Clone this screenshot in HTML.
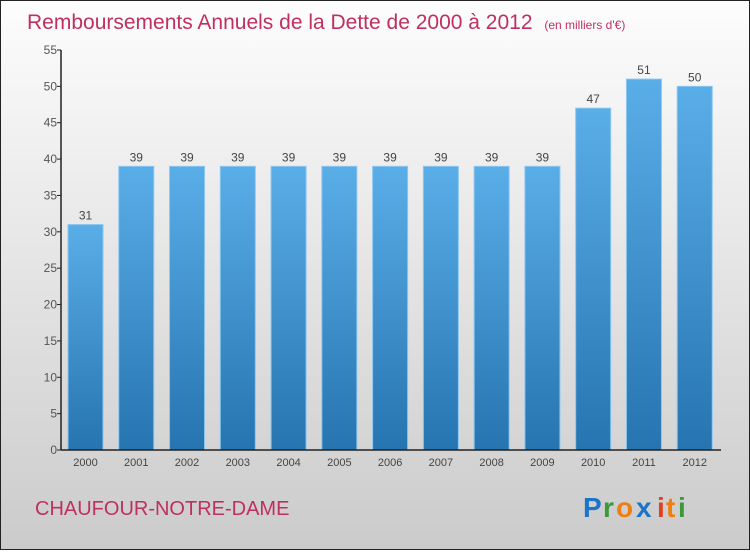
<!DOCTYPE html>
<html><head><meta charset="utf-8"><style>
html,body{margin:0;padding:0}
body{width:750px;height:550px;overflow:hidden;font-family:"Liberation Sans",sans-serif}
</style></head><body>
<svg width="750" height="550" xmlns="http://www.w3.org/2000/svg">
<defs>
<linearGradient id="bg" x1="0" y1="0" x2="0" y2="1"><stop offset="0" stop-color="#fdfdfd"/><stop offset="1" stop-color="#cbcbcb"/></linearGradient>
<linearGradient id="bar" x1="0" y1="0" x2="0" y2="1"><stop offset="0" stop-color="#5aaee8"/><stop offset="1" stop-color="#2674b0"/></linearGradient>
</defs>
<rect x="0.5" y="0.5" width="749" height="549" fill="url(#bg)" stroke="#222"/>
<text x="27" y="29" font-size="21" fill="#c0305e">Remboursements Annuels de la Dette de 2000 à 2012 <tspan font-size="12" dx="6">(en milliers d'€)</tspan></text>
<g id="plot"></g>
<text x="35" y="515" font-size="20" fill="#c0305e">CHAUFOUR-NOTRE-DAME</text>
<g font-size="28" font-weight="bold">
<text x="583" y="517" fill="#1a75c8">P</text><text x="603" y="517" fill="#3a9a3a">r</text><text x="616" y="517" fill="#f07e10">o</text><text x="636" y="517" fill="#1a75c8">x</text><text x="657" y="517" fill="#e04020">i</text><text x="666" y="517" fill="#f07e10">t</text><text x="678" y="517" fill="#3a9a3a">i</text>
</g>
</svg>
<script>
const categories=["2000","2001","2002","2003","2004","2005","2006","2007","2008","2009","2010","2011","2012"];
const values=[31,39,39,39,39,39,39,39,39,39,47,51,50];
const yTicks=[0,5,10,15,20,25,30,35,40,45,50,55];
const NS="http://www.w3.org/2000/svg";
const g=document.getElementById('plot');
const x0=61,x1=721,y0=450,y1=50,ymax=55;
const band=(x1-x0)/categories.length;
const y=v=>y0-(v/ymax)*(y0-y1);
const xb=i=>x0+i*band;
function mk(t,a){const e=document.createElementNS(NS,t);for(const k in a)e.setAttribute(k,a[k]);g.appendChild(e);return e;}
values.forEach((v,i)=>{
 const r=mk('rect',{x:xb(i)+7,y:y(v),width:35,height:y0-y(v),fill:'url(#bar)',stroke:'#8cc6ef','stroke-width':1});
 
 
 const t=mk('text',{x:xb(i)+24.5,y:y(v)-5,'text-anchor':'middle','font-size':12,fill:'#444'});
 t.textContent=v;
 
 
 const c=mk('text',{x:xb(i)+24.5,y:466,'text-anchor':'middle','font-size':11,fill:'#444'});
 c.textContent=categories[i];
 
 
});
yTicks.forEach(v=>{
 const l=mk('line',{x1:x0-4,x2:x0,y1:y(v),y2:y(v),stroke:'#222'});
 
 
 const t=mk('text',{x:x0-4,y:y(v)+4,'text-anchor':'end','font-size':12,fill:'#555'});
 t.textContent=v;
 
 
});
const ya=mk('line',{x1:x0,x2:x0,y1:y1,y2:y0,stroke:'#222','stroke-width':1.5});


const xa=mk('line',{x1:x0,x2:x1,y1:y0,y2:y0,stroke:'#222','stroke-width':1.5});


</script>
</body></html>
